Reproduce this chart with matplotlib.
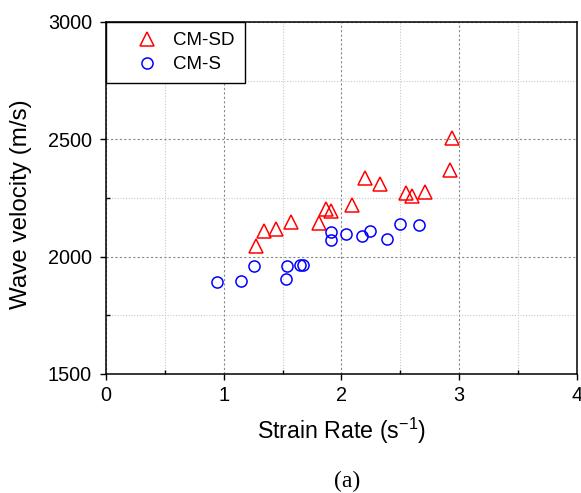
import matplotlib
matplotlib.use("Agg")
import matplotlib.pyplot as plt
from matplotlib.ticker import MultipleLocator

# ---------------------------------------------------
# DATA
# ---------------------------------------------------
sd_rate = [2.94, 2.92, 2.20, 2.33, 2.55, 2.60, 2.71, 2.09, 1.87, 1.91,
           1.81, 1.57, 1.44, 1.34, 1.27]
sd_vel = [2507, 2369, 2334, 2310, 2270, 2259, 2274, 2219, 2203, 2195,
          2145, 2149, 2117, 2111, 2047]

s_rate = [0.94, 1.15, 1.26, 1.54, 1.53, 1.65, 1.67, 1.91, 1.91, 2.04,
          2.17, 2.24, 2.39, 2.50, 2.66]
s_vel = [1893, 1896, 1962, 1961, 1904, 1966, 1966, 2105, 2070, 2098,
         2089, 2110, 2075, 2141, 2134]

plt.rcParams['font.family'] = ['Liberation Sans', 'DejaVu Sans']

# ---------------------------------------------------
# FIGURE
# ---------------------------------------------------
fig = plt.figure(figsize=(5.81, 4.93), dpi=100)
ax = fig.add_axes([0.1824, 0.2414, 0.8107, 0.714])

ax.plot(sd_rate, sd_vel, linestyle='none', marker='^', markersize=9.5,
        markerfacecolor='none', markeredgecolor='red', markeredgewidth=1.1,
        label='CM-SD')
ax.plot(s_rate, s_vel, linestyle='none', marker='o', markersize=8,
        markerfacecolor='none', markeredgecolor='blue', markeredgewidth=1.1,
        label='CM-S')

ax.set_xlim(0, 4)
ax.set_ylim(1500, 3000)
ax.xaxis.set_major_locator(MultipleLocator(1))
ax.xaxis.set_minor_locator(MultipleLocator(0.5))
ax.yaxis.set_major_locator(MultipleLocator(500))
ax.yaxis.set_minor_locator(MultipleLocator(250))

# -----------------------------------------
# GRID
# -----------------------------------------
ax.grid(which='major', color='#888888', linestyle=(0, (2, 2)), linewidth=0.8)
ax.grid(which='minor', color='#c8c8c8', linestyle=(0, (1, 1.5)), linewidth=0.8)
ax.set_axisbelow(True)

# -----------------------------------------
# TICKS
# -----------------------------------------
ax.tick_params(which='major', direction='out', length=4.5, width=1,
               labelsize=14.3, top=False, right=False)
ax.tick_params(axis='x', which='major', pad=4)
ax.tick_params(axis='y', which='major', pad=5.5)
ax.tick_params(which='minor', direction='in', length=3, width=1,
               top=False, right=False)
for sp in ax.spines.values():
    sp.set_linewidth(1.1)

ax.set_xlabel('Strain Rate (s$^{\\mathregular{-1}}$)', fontsize=16.7)
ax.set_ylabel('Wave velocity (m/s)', fontsize=17.4)
ax.yaxis.set_label_coords(-0.157, 0.483)
ax.xaxis.set_label_coords(0.5, -0.118)

leg = ax.legend(loc='upper left', fontsize=13.5, frameon=True, fancybox=False,
                borderaxespad=0, edgecolor='black', framealpha=1,
                handletextpad=-0.23, borderpad=0.55, handlelength=3.24,
                labelspacing=0.35)
leg.get_frame().set_linewidth(1.0)

fig.text(0.597, 0.012, '(a)', fontsize=17, ha='center', va='baseline',
         family=['Liberation Serif', 'DejaVu Serif'])

fig.savefig('out.png', dpi=100)
